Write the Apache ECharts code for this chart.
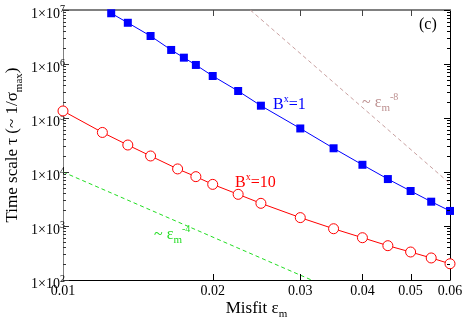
<!DOCTYPE html>
<html><head><meta charset="utf-8">
<script src="https://cdn.jsdelivr.net/npm/echarts@6/dist/echarts.min.js"></script>
<style>html,body{margin:0;padding:0;background:#fff}#c{width:464px;height:319px}</style>
</head><body><div id="c"></div>
<script>
// ---- data ----
const misfitB1 = [0.0125,0.0135,0.015,0.0165,0.0175,0.0185,0.02,0.0225,0.025,0.03,0.035,0.04,0.045,0.05,0.055,0.06];
const tauB1 = [8.7e6,5.8e6,3.3e6,1.82e6,1.31e6,9.6e5,6.0e5,3.16e5,1.69e5,6.4e4,2.75e4,1.36e4,7.4e3,4.45e3,2.82e3,1.9e3];
const misfitB10 = [0.01,0.012,0.0135,0.015,0.017,0.0185,0.02,0.0225,0.025,0.03,0.035,0.04,0.045,0.05,0.055,0.06];
const tauB10 = [1.35e5,5.4e4,3.16e4,1.98e4,1.14e4,8.2e3,5.9e3,3.86e3,2.63e3,1.43e3,8.9e2,6.07e2,4.32e2,3.3e2,2.56e2,2.0e2];
const guide4X = [0.01, 0.0316];
const guide4Y = [1e4, 1e2];
const guide8X = [0.0238, 0.06];
const guide8Y = [1e7, 6.1e3];
const xTickLabels = [0.01,0.02,0.03,0.04,0.05,0.06];
const xInnerTicks = [0.02,0.03,0.04,0.05];
const yMajorTicks = [1e2,1e3,1e4,1e5,1e6,1e7];
const yMinorMultipliers = [2,3,4,5,6,7,8,9];
const xRange = [0.01, 0.06];
const yRange = [1e2, 1e7];

const yMinorTicks = [];
yMajorTicks.slice(0, -1).forEach(d => yMinorMultipliers.forEach(m => yMinorTicks.push(m * d)));

const serif = 'Liberation Serif';
const pair = (xs, ys) => xs.map((x, i) => [x, ys[i]]);

const chart = echarts.init(document.getElementById('c'), null, {renderer: 'canvas'});

const yAxisLeft = {
  type: 'log', logBase: 10, min: yRange[0], max: yRange[1], position: 'left',
  axisLine: {show: true, onZero: false, lineStyle: {color: '#808080', width: 1}},
  axisTick: {show: false},
  axisLabel: {
    show: true, customValues: yMajorTicks, margin: -2,
    formatter: v => '{m|1×10}{s|' + Math.round(Math.log10(v)) + '}',
    rich: {
      m: {fontFamily: serif, fontSize: 14, color: '#000', lineHeight: 23, verticalAlign: 'bottom'},
      s: {fontFamily: serif, fontSize: 10, color: '#000', lineHeight: 16, verticalAlign: 'top', padding: [6, 0, 0, 0]}
    }
  },
  splitLine: {show: false},
  name: '{m|Time scale τ (~ 1/σ}{s|max}{m|)}',
  nameLocation: 'middle', nameGap: 38, nameMoveOverlap: false,
  nameTextStyle: {
    rich: {
      m: {fontFamily: serif, fontSize: 17, color: '#000', lineHeight: 24},
      s: {fontFamily: serif, fontSize: 11, color: '#000', lineHeight: 11, verticalAlign: 'bottom'}
    }
  }
};
const yAxisRight = {
  type: 'log', logBase: 10, min: yRange[0], max: yRange[1], position: 'right',
  axisLine: {show: true, onZero: false, lineStyle: {color: '#000', width: 1}},
  axisTick: {show: false}, axisLabel: {show: false}, splitLine: {show: false}
};
const xAxisBottom = {
  type: 'log', logBase: 10, min: xRange[0], max: xRange[1], position: 'bottom',
  axisLine: {show: true, onZero: false, lineStyle: {color: '#000', width: 1}},
  axisTick: {show: false},
  axisLabel: {
    show: true, customValues: xTickLabels, margin: 4,
    formatter: v => v.toFixed(2),
    fontFamily: serif, fontSize: 14, color: '#000'
  },
  splitLine: {show: false},
  name: '{m|Misfit ε}{s|m}',
  nameLocation: 'middle', nameGap: 18, nameMoveOverlap: false,
  nameTextStyle: {
    verticalAlign: 'top',
    rich: {
      m: {fontFamily: serif, fontSize: 17, color: '#000', lineHeight: 22},
      s: {fontFamily: serif, fontSize: 11, color: '#000', lineHeight: 11, verticalAlign: 'bottom'}
    }
  }
};
const xAxisTop = {
  type: 'log', logBase: 10, min: xRange[0], max: xRange[1], position: 'top',
  axisLine: {show: true, onZero: false, lineStyle: {color: '#808080', width: 2}},
  axisTick: {show: false}, axisLabel: {show: false}, splitLine: {show: false}
};

// inward tick marks, positioned through the axes' own coordinate conversion
function yTickItem(params, api) {
  const v = api.value(1), len = api.value(2);
  const pL = api.coord([xRange[0], v]);
  const pR = api.coord([xRange[1], v]);
  const y = Math.round(pL[1]) + 0.5;
  return {type: 'group', children: [
    {type: 'line', shape: {x1: pL[0], y1: y, x2: pL[0] + len, y2: y}, style: {stroke: '#333', lineWidth: 1}},
    {type: 'line', shape: {x1: pR[0] - len, y1: y, x2: pR[0], y2: y}, style: {stroke: '#000', lineWidth: 1}}
  ]};
}
function xTickItem(params, api) {
  const v = api.value(0), len = api.value(2);
  const pB = api.coord([v, yRange[0]]);
  const pT = api.coord([v, yRange[1]]);
  const x = Math.round(pB[0]) + 0.5;
  return {type: 'group', children: [
    {type: 'line', shape: {x1: x, y1: pB[1], x2: x, y2: pB[1] - len}, style: {stroke: '#000', lineWidth: 1}},
    {type: 'line', shape: {x1: x, y1: pT[1], x2: x, y2: pT[1] + len}, style: {stroke: '#444', lineWidth: 1}}
  ]};
}

function richLabel(text, color, left, top) {
  return {
    type: 'text', left: left, top: top, z: 100,
    style: {
      text: text, fill: color,
      rich: {
        m: {fontFamily: serif, fontSize: 16, fill: color, lineHeight: 22},
        p: {fontFamily: serif, fontSize: 10, fill: color, lineHeight: 10, verticalAlign: 'top'},
        b: {fontFamily: serif, fontSize: 11, fill: color, lineHeight: 11, verticalAlign: 'bottom'}
      }
    }
  };
}

chart.setOption({
  animation: false,
  backgroundColor: '#fff',
  grid: {left: 63, right: 14, top: 10, bottom: 39, containLabel: false, outerBoundsMode: 'none'},
  xAxis: [xAxisBottom, xAxisTop],
  yAxis: [yAxisLeft, yAxisRight],
  series: [
    {name: 'eps^-4', type: 'line', data: pair(guide4X, guide4Y), symbol: 'none',
      lineStyle: {color: '#22dd22', width: 1, type: [4, 3]}, z: 1},
    {name: 'eps^-8', type: 'line', data: pair(guide8X, guide8Y), symbol: 'none',
      lineStyle: {color: '#c8a0a0', width: 1, type: [4, 3]}, z: 1},
    {name: 'B1', type: 'line', data: pair(misfitB1, tauB1), symbol: 'rect', symbolSize: 8,
      lineStyle: {color: '#0000ff', width: 1}, itemStyle: {color: '#0000ff', borderWidth: 0}, z: 3},
    {name: 'B10', type: 'line', data: pair(misfitB10, tauB10), symbol: 'circle', symbolSize: 10,
      lineStyle: {color: '#ff0000', width: 1}, itemStyle: {color: '#fff', borderColor: '#ff0000', borderWidth: 1}, z: 3},
    {name: 'yMajorTicks', type: 'custom', renderItem: yTickItem, silent: true, clip: false, z: 5,
      data: yMajorTicks.map(v => [xRange[0], v, 6])},
    {name: 'yMinorTicks', type: 'custom', renderItem: yTickItem, silent: true, clip: false, z: 5,
      data: yMinorTicks.map(v => [xRange[0], v, 3])},
    {name: 'xTicks', type: 'custom', renderItem: xTickItem, silent: true, clip: false, z: 5,
      data: xInnerTicks.map(v => [v, yRange[0], 6])}
  ],
  graphic: [
    richLabel('{m|B}{p|x}{m|=1}', '#0000ff', 273, 94),
    richLabel('{m|B}{p|x}{m|=10}', '#ff0000', 235, 172),
    richLabel('{m|~ ε}{b|m}{p|-8}', '#bc8f8f', 362, 92),
    richLabel('{m|~ ε}{b|m}{p|-4}', '#22dd22', 154, 224),
    {type: 'text', left: 419, top: 17, z: 100,
      style: {text: '(c)', fill: '#000', font: '16px "Liberation Serif"'}}
  ]
});
</script>
</body></html>
